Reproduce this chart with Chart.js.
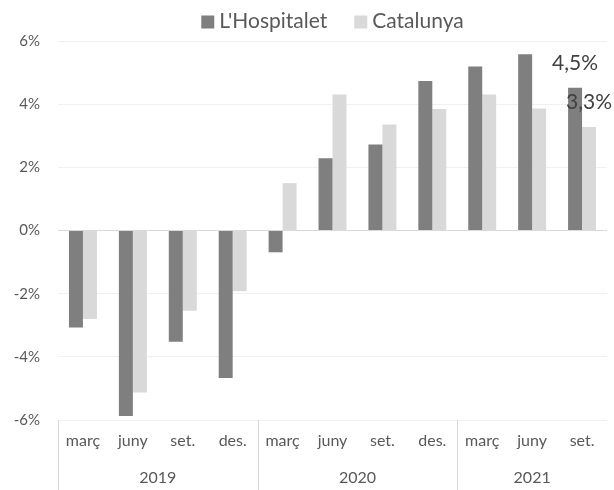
<!DOCTYPE html>
<html>
<head>
<meta charset="utf-8">
<script src="https://cdn.jsdelivr.net/npm/chart.js@4"></script>
<style>
  html, body { margin:0; padding:0; background:#fff; }
  #wrap { width:614px; height:490px; }
</style>
</head>
<body>
<div id="wrap"><canvas id="chart" width="614" height="490"></canvas></div>
<script>
// categories (quarters) and their year groups
const quarters = ['març','juny','set.','des.','març','juny','set.','des.','març','juny','set.'];
const years = ['2019','2020','2021'];
const yearSpans = [4, 4, 3];

// year-on-year change, %
const hospitalet = [-3.07, -5.87, -3.52, -4.67, -0.69, 2.29, 2.72, 4.73, 5.19, 5.58, 4.52];
const catalunya  = [-2.80, -5.13, -2.54, -1.92, 1.50, 4.31, 3.36, 3.85, 4.31, 3.86, 3.28];

// labels shown above the last bars
const lastLabels = ['4,5%', '3,3%'];

const yMin = -6, yMax = 6, yStep = 2;

const FONT = 'Lato, "Open Sans", sans-serif';
const TXT = '#595959';

// legend on top, centred over the plot area
const topLegendPlugin = {
  id:'topLegend',
  afterDraw(chart){
    const {ctx, chartArea} = chart;
    const box = 13, gap = 5, between = 27;
    ctx.save();
    ctx.font = '21px ' + FONT;
    ctx.textBaseline = 'middle'; ctx.textAlign = 'left';
    const items = chart.data.datasets.map(d => ({ text:d.label, color:d.backgroundColor, w: ctx.measureText(d.label).width }));
    const total = items.reduce((s, it)=> s + box + gap + it.w, 0) + between * (items.length - 1);
    let x = (chartArea.left + chartArea.right)/2 - total/2;
    const y = 21;
    items.forEach(it=>{
      ctx.fillStyle = it.color;
      ctx.fillRect(x, y - box/2 + 1, box, box);
      ctx.fillStyle = TXT;
      ctx.fillText(it.text, x + box + gap, y);
      x += box + gap + it.w + between;
    });
    ctx.restore();
  }
};

// year row + separators under the quarter labels
const yearAxisPlugin = {
  id:'yearAxis',
  afterDraw(chart){
    const {ctx, chartArea, scales:{x}} = chart;
    const step = x.getPixelForValue(1) - x.getPixelForValue(0);
    ctx.save();
    ctx.strokeStyle = '#d9d9d9'; ctx.lineWidth = 1;
    ctx.fillStyle = TXT; ctx.font = '16px ' + FONT;
    ctx.textAlign = 'center'; ctx.textBaseline = 'middle';
    let start = 0;
    years.forEach((yr, i)=>{
      const x0 = x.getPixelForValue(start) - step/2;
      const x1 = x.getPixelForValue(start + yearSpans[i] - 1) + step/2;
      const px = Math.round(x0) + 0.5;
      ctx.beginPath(); ctx.moveTo(px, chartArea.bottom); ctx.lineTo(px, chart.height); ctx.stroke();
      ctx.fillText(yr, (x0 + x1)/2, chartArea.bottom + 58);
      start += yearSpans[i];
    });
    ctx.restore();
  }
};

// value labels on the last quarter
const lastLabelPlugin = {
  id:'lastLabel',
  afterDatasetsDraw(chart){
    const {ctx} = chart;
    ctx.save();
    ctx.fillStyle = '#404040'; ctx.font = '21px ' + FONT;
    ctx.textAlign = 'center'; ctx.textBaseline = 'middle';
    lastLabels.forEach((txt, di)=>{
      const meta = chart.getDatasetMeta(di);
      const bar = meta.data[meta.data.length - 1];
      ctx.fillText(txt, bar.x, bar.y - 25);
    });
    ctx.restore();
  }
};

const ctx = document.getElementById('chart').getContext('2d');
new Chart(ctx, {
  type:'bar',
  data:{
    labels: quarters,
    datasets:[
      { label:"L'Hospitalet", data: hospitalet, backgroundColor:'#7f7f7f' },
      { label:'Catalunya', data: catalunya, backgroundColor:'#d9d9d9' }
    ]
  },
  options:{
    responsive:false,
    animation:false,
    devicePixelRatio:1,
    datasets:{ bar:{ categoryPercentage:0.56, barPercentage:1.0 } },
    layout:{ padding:{ left:0, right:7, top:41, bottom:0 } },
    plugins:{
      legend:{ display:false },
      tooltip:{ enabled:false }
    },
    scales:{
      x:{
        grid:{ display:false, drawTicks:false },
        border:{ display:false },
        ticks:{ font:{ family:FONT, size:16 }, color:TXT, padding:11, maxRotation:0, autoSkip:false },
        afterFit(s){ s.height = 70; }
      },
      y:{
        min:yMin, max:yMax,
        grid:{ color:(c)=> c.tick && c.tick.value === 0 ? '#d9d9d9' : '#f0f0f0', drawTicks:false, lineWidth:1 },
        border:{ display:false },
        ticks:{ stepSize:yStep, font:{ family:FONT, size:15 }, color:TXT, padding:18, callback:(v)=> v + '%' },
        afterFit(s){ s.width = 58; }
      }
    }
  },
  plugins:[topLegendPlugin, yearAxisPlugin, lastLabelPlugin]
});
</script>
</body>
</html>
